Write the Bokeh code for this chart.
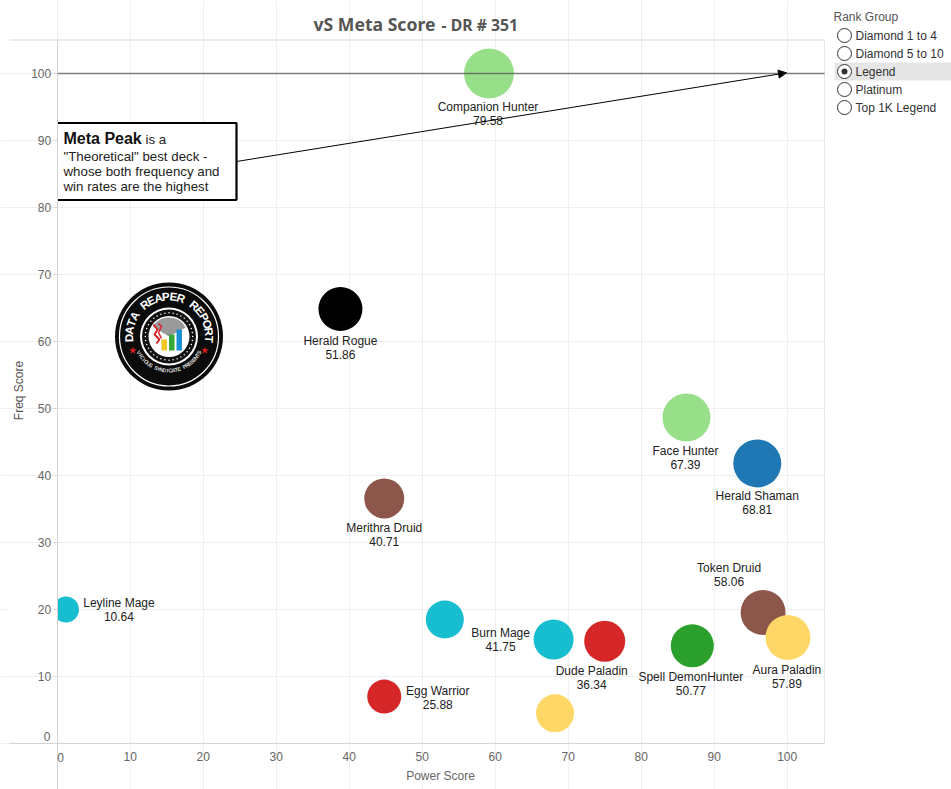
import numpy as np
from bokeh.plotting import figure
from bokeh.layouts import row
from bokeh.embed import file_html
from bokeh.resources import INLINE
from bokeh.core.properties import value
from bokeh.models import Arrow, NormalHead, FixedTicker, ColumnDataSource, Label

# ---- data ----
decks = ["Companion Hunter", "Herald Rogue", "Face Hunter", "Herald Shaman", "Merithra Druid",
         "Leyline Mage", "", "Burn Mage", "Token Druid", "Aura Paladin",
         "Spell DemonHunter", "Dude Paladin", "Egg Warrior", ""]
meta_score = ["79.58", "51.86", "67.39", "68.81", "40.71", "10.64", "", "41.75", "58.06", "57.89",
              "50.77", "36.34", "25.88", ""]
power_score = [59.15, 38.8, 86.2, 95.9, 44.8, 1.2, 53.1, 68.0, 96.7, 100.1, 87.0, 75.0, 44.8, 68.2]
freq_score = [100.0, 64.85, 48.66, 41.8, 36.57, 20.0, 18.5, 15.52, 19.55, 15.82, 14.58, 15.27, 7.0, 4.5]
tick_values = [0, 10, 20, 30, 40, 50, 60, 70, 80, 90, 100]
rank_groups = ["Diamond 1 to 4", "Diamond 5 to 10", "Legend", "Platinum", "Top 1K Legend"]
selected_group = "Legend"

# ---- styling / layout, kept apart from the data ----
GREEN_L, BLUE, BROWN, TEAL, RED, GREEN, YELLOW = "#98df8a", "#1f77b4", "#8c564b", "#17becf", "#d62728", "#2ca02c", "#ffd766"
colors = [GREEN_L, "#000000", GREEN_L, BLUE, BROWN, TEAL, TEAL, TEAL, BROWN, YELLOW, GREEN, RED, RED, YELLOW]
diam = [50, 44, 48, 48, 40, 26, 38, 40, 45, 45, 43, 41, 34, 38]
lab_dx = [-1, 0, -1, 0, 0, 53, 0, -53, -34, -1, -1.5, -13, 53.5, 0]
lab_dy = [40.5, 38.5, 41, 40, 37, 0, 0, 0, -38, 39, 37.7, 37, 1, 0]
FONT = "Liberation Sans"
INK = "#222222"
GREY = "#666666"

def X(px):  # page pixel -> power score
    return (px - 56.7) / 7.3

def Y(py):  # page pixel -> freq score
    return (743.0 - py) / 6.7

p = figure(width=825, height=789, output_backend="svg", toolbar_location=None,
           x_range=(X(0), X(825)), y_range=(Y(789), Y(0)),
           min_border_left=0, min_border_right=0, min_border_top=0, min_border_bottom=0,
           outline_line_color=None, background_fill_color="white")

xa, ya = p.xaxis[0], p.yaxis[0]
xa.fixed_location = 0
ya.fixed_location = 0
xa.bounds = (X(9), X(825))
ya.bounds = (Y(789), Y(40))
for a in (xa, ya):
    a.ticker = FixedTicker(ticks=tick_values)
    a.minor_tick_line_color = None
    a.axis_line_color = "#d4d4d4"
    a.major_label_text_font = FONT
    a.major_label_text_font_size = "12px"
    a.major_label_text_color = GREY
    a.major_label_overrides = {0: ""}
xa.major_tick_line_color = None
xa.major_tick_in = 0
xa.major_tick_out = 0
xa.major_label_standoff = 8
ya.major_tick_line_color = "#d4d4d4"
ya.major_tick_in = 0
ya.major_tick_out = 4
ya.major_label_standoff = 2

for g in (p.xgrid[0], p.ygrid[0]):
    g.grid_line_color = "#efefef"
    g.ticker = FixedTicker(ticks=tick_values)
p.xgrid[0].bounds = (0, Y(40))
p.ygrid[0].bounds = (0, X(825))

# top and right frame lines
p.line([X(9), X(824.5), X(824.5)], [Y(39.5), Y(39.5), 0], line_color="#d9d9d9", line_width=1.2)

src = ColumnDataSource(dict(x=power_score, y=freq_score, c=colors, d=diam))
p.scatter("x", "y", size="d", fill_color="c", line_color=None, source=src)

# the marks stop at the vertical axis
p.quad(left=X(9), right=0, bottom=Y(640), top=Y(590), fill_color="white", line_color=None)

# Meta peak line
p.line([0, X(824)], [100, 100], line_color="#555555", line_alpha=0.75, line_width=1.6)

# Logo
LX, LY = X(168.5), Y(336)
def ring(r, fill, line=None, lw=1):
    p.scatter([LX], [LY], size=2 * r, fill_color=fill, line_color=line, line_width=lw)
ring(54, "#0b0b0b")
ring(49.5, None, "white", 1.2)
ring(29, "white")
ring(27, "#111111")
ring(20.5, "white")
dot_a = np.linspace(0, 2 * np.pi, 36, endpoint=False)
p.scatter(LX + 23.7 * np.cos(dot_a) / 7.3, LY + 23.7 * np.sin(dot_a) / 6.7, size=1.5, fill_color="white", line_color=None)
p.wedge([LX], [LY], radius=19, start_angle=0.5, end_angle=2.6, radius_units="screen", fill_color="#9a9a9a", line_color=None)
for (x0, x1, y1, c) in [(161, 166.5, 339, "#f4c520"), (168.5, 174, 334, "#35a835"), (176, 181.5, 329, "#1c8ed6")]:
    p.quad(left=X(x0), right=X(x1), bottom=Y(350), top=Y(y1), fill_color=c, line_color=None)
p.line([X(153), X(157), X(154), X(159), X(156)], [Y(324), Y(329), Y(334), Y(339), Y(343)], line_color="#d8232a", line_width=2)
p.line([X(158), X(161), X(158), X(161)], [Y(323), Y(326), Y(332), Y(338)], line_color="#d8232a", line_width=1.5)

def arc_text(txt, a0, a1, r, size, color, outward=True):
    ang = np.radians(np.linspace(a0, a1, len(txt)))
    rot = ang - np.pi / 2 if outward else ang + np.pi / 2
    p.text([LX] * len(txt), [LY] * len(txt), text=list(txt), angle=rot,
           x_offset=r * np.cos(ang), y_offset=-r * np.sin(ang),
           text_font=value(FONT), text_font_style="bold", text_font_size=size, text_color=color,
           text_align="center", text_baseline="middle")

arc_text("DATA REAPER REPORT", 182, -4, 40, "11.5px", "white")
arc_text("VICIOUS SYNDICATE PRESENTS", 208, 332, 34, "5.5px", "#d8d8d8", outward=False)
p.scatter([X(132.5), X(204.5)], [Y(350), Y(350)], marker="star", size=8, fill_color="#e02020", line_color=None)

# Callout
p.quad(left=0, right=X(236), bottom=Y(200), top=Y(122), fill_color="white", line_color=None)
p.line([0, X(236), X(236), 0], [Y(122.5), Y(122.5), Y(199.5), Y(199.5)], line_color="black", line_width=2.2)
p.add_layout(Arrow(end=NormalHead(size=8, fill_color="black", line_color="black"),
                   x_start=X(236), y_start=Y(161), x_end=X(786), y_end=100.1, line_color="black", line_width=1))

def note(px, py, txt, size="13.3px", style="normal", color="#222222", align="left", angle=0.0, font=FONT):
    p.add_layout(Label(x=X(px), y=Y(py), text=txt, text_font=font, text_font_size=size, text_font_style=style,
                       text_color=color, text_align=align, text_baseline="middle", angle=angle))

note(63, 138, "Meta Peak", "16px", "bold", "#111111")
note(145, 139, "is a")
note(63, 155.5, "\"Theoretical\" best deck -")
note(63, 170.5, "whose both frequency and")
note(63, 185.5, "win rates are the highest")

# data labels
lab = ColumnDataSource(dict(x=power_score, y=freq_score,
                            t=[f"{a}\n{b}" if a else "" for a, b in zip(decks, meta_score)],
                            dx=lab_dx, dy=lab_dy))
p.text("x", "y", text="t", x_offset="dx", y_offset="dy", source=lab, text_font=value(FONT),
       text_font_size="12px", text_color=INK, text_align="center", text_baseline="middle", text_line_height=1.0)

# zero tick labels, title, axis titles
note(60, 757, "0", "12px", color=GREY, align="center")
note(50, 736, "0", "12px", color=GREY, align="right")
note(313, 23.5, "vS Meta Score", "17.6px", "bold", "#555555", font="Noto Sans")
note(441, 24.5, "- DR # 351", "15.8px", "bold", "#555555", font="Noto Sans")
note(440, 775, "Power Score", "12px", color=GREY, align="center")
note(18, 390, "Freq Score", "12px", color="#555555", align="center", angle=np.pi / 2)

# ---- rank group filter ----
f = figure(width=126, height=789, output_backend="svg", toolbar_location=None,
           x_range=(825, 951), y_range=(789, 0), min_border=0, outline_line_color=None)
f.xaxis.visible = False
f.yaxis.visible = False
f.grid.visible = False
rows_y = [35 + 18 * i for i in range(len(rank_groups))]
k = rank_groups.index(selected_group)
f.quad(left=834, right=951, top=rows_y[k] - 9, bottom=rows_y[k] + 9, fill_color="#e6e6e6", line_color=None)
f.scatter([844] * len(rows_y), rows_y, size=14, fill_color="white", line_color="#333333", line_width=1)
f.scatter([844], [rows_y[k]], size=6, fill_color="#333333", line_color=None)
f.text([855] * len(rows_y), rows_y, text=rank_groups, text_font=value(FONT), text_font_size="12px",
       text_color="#333333", text_baseline="middle")
f.text([833], [16], text=["Rank Group"], text_font=value(FONT), text_font_size="12px",
       text_color="#555555", text_baseline="middle")

layout = row(p, f, spacing=0)
open("out.html", "w").write(file_html(layout, INLINE))
